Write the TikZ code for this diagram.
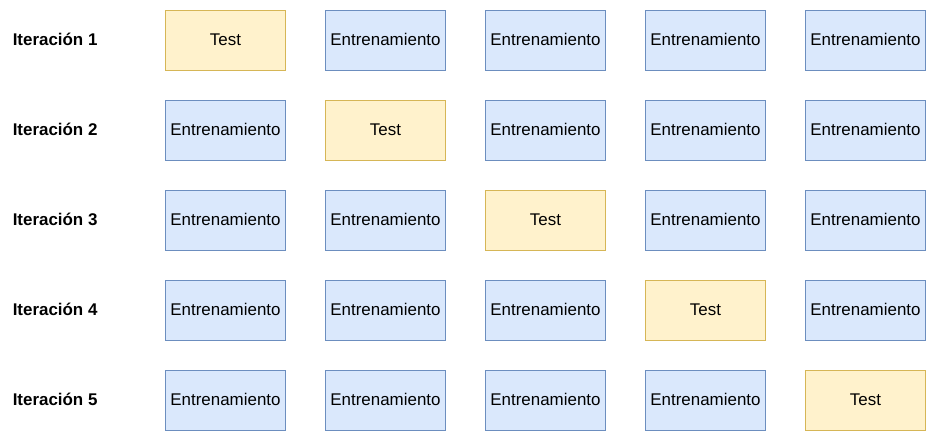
\documentclass[tikz,border=0pt]{standalone}
\usepackage{fontspec}
\setmainfont{Liberation Sans}
\usetikzlibrary{positioning}

\definecolor{trainfill}{HTML}{DAE8FC}
\definecolor{traindraw}{HTML}{6C8EBF}
\definecolor{testfill}{HTML}{FFF2CC}
\definecolor{testdraw}{HTML}{D6B656}

\tikzset{
	fold/.style={minimum width=90pt, minimum height=45pt, inner sep=0pt, text height=9.95pt, text depth=1.85pt, font=\fontsize{12.7}{15}\selectfont},
	train/.style={fold, draw=traindraw, fill=trainfill, line width=0.75pt},
	test/.style={fold, draw=testdraw, fill=testfill, line width=0.75pt},
	iter/.style={anchor=west, inner sep=0pt, text height=9.95pt, text depth=1.85pt, font=\fontsize{12.7}{15}\selectfont\bfseries}
}

\begin{document}
\begin{tikzpicture}[x=0.75pt, y=-0.75pt]
		\useasboundingbox (-0.5,-0.5) rectangle (935.5,440.5);
		
		\node [iter] (it1) at (12,40) {Iteración 1};
		\node [test] (f11) at (225,40) {Test};
		\node [train] (f12) at (385,40) {Entrenamiento};
		\node [train] (f13) at (545,40) {Entrenamiento};
		\node [train] (f14) at (705,40) {Entrenamiento};
		\node [train] (f15) at (865,40) {Entrenamiento};
		
		\node [iter] (it2) at (12,130) {Iteración 2};
		\node [train] (f21) at (225,130) {Entrenamiento};
		\node [test] (f22) at (385,130) {Test};
		\node [train] (f23) at (545,130) {Entrenamiento};
		\node [train] (f24) at (705,130) {Entrenamiento};
		\node [train] (f25) at (865,130) {Entrenamiento};
		
		\node [iter] (it3) at (12,220) {Iteración 3};
		\node [train] (f31) at (225,220) {Entrenamiento};
		\node [train] (f32) at (385,220) {Entrenamiento};
		\node [test] (f33) at (545,220) {Test};
		\node [train] (f34) at (705,220) {Entrenamiento};
		\node [train] (f35) at (865,220) {Entrenamiento};
		
		\node [iter] (it4) at (12,310) {Iteración 4};
		\node [train] (f41) at (225,310) {Entrenamiento};
		\node [train] (f42) at (385,310) {Entrenamiento};
		\node [train] (f43) at (545,310) {Entrenamiento};
		\node [test] (f44) at (705,310) {Test};
		\node [train] (f45) at (865,310) {Entrenamiento};
		
		\node [iter] (it5) at (12,400) {Iteración 5};
		\node [train] (f51) at (225,400) {Entrenamiento};
		\node [train] (f52) at (385,400) {Entrenamiento};
		\node [train] (f53) at (545,400) {Entrenamiento};
		\node [train] (f54) at (705,400) {Entrenamiento};
		\node [test] (f55) at (865,400) {Test};
	\end{tikzpicture}
\end{document}
